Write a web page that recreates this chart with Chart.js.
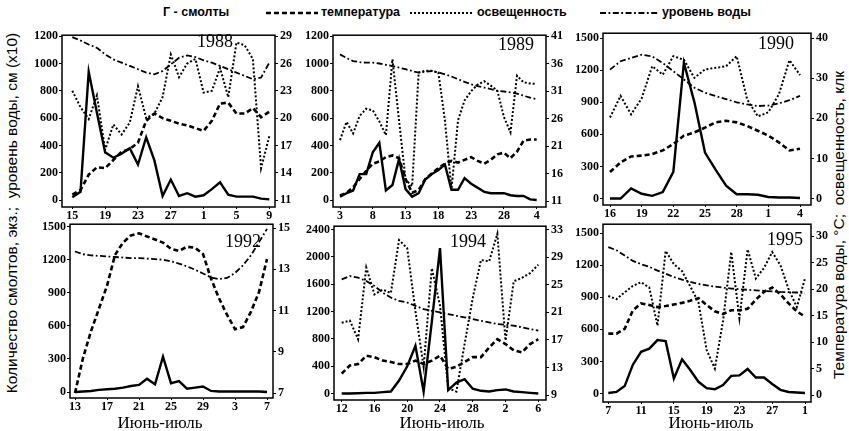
<!DOCTYPE html>
<html>
<head>
<meta charset="utf-8">
<script src="https://cdn.jsdelivr.net/npm/chart.js@4.4.1/dist/chart.umd.min.js"></script>
<style>
  body { margin: 0; width: 849px; height: 431px; background: #fff; position: relative; overflow: hidden; color: #000; }
  canvas { position: absolute; }
  .txt { position: absolute; white-space: pre; line-height: 1; }
  .year { font: 18px "Liberation Serif", serif; }
  .month { font: 17px "Liberation Serif", serif; width: 120px; text-align: center; }
  .leg { font: bold 12.5px "Liberation Sans", sans-serif; top: 5px; }
  .vtitle { font: 15.5px "Liberation Sans", sans-serif; width: 430px; height: 18px; text-align: center; transform: rotate(-90deg); }
  svg { position: absolute; }
</style>
</head>
<body>

<div class="txt leg" style="left:163px">Г - смолты</div>
<svg style="left:266px;top:8px" width="52" height="10"><line x1="0" y1="5" x2="52" y2="5" stroke="#000" stroke-width="2.6" stroke-dasharray="5 3"/></svg>
<div class="txt leg" style="left:321px">температура</div>
<svg style="left:410px;top:8px" width="62" height="10"><line x1="0" y1="5" x2="62" y2="5" stroke="#000" stroke-width="2" stroke-dasharray="2 2"/></svg>
<div class="txt leg" style="left:477px">освещенность</div>
<svg style="left:600px;top:8px" width="58" height="10"><line x1="0" y1="5" x2="58" y2="5" stroke="#000" stroke-width="1.8" stroke-dasharray="6 2.5 1.8 2.5"/></svg>
<div class="txt leg" style="left:662px">уровень воды</div>

<div class="txt vtitle" style="left:-203px;top:204px">Количество смолтов, экз.;  уровень воды, см (x10)</div>
<div class="txt vtitle" style="left:624px;top:216px">Температура воды, °С;  освещенность, клк</div>

<script>
// day numbers count from 1 June; 31 = 1 July
const START_1988 = 15;
const SMOLTS_1988 = [20, 60, 940, 640, 350, 310, 340, 380, 260, 460, 290, 30, 150, 30, 50, 25, 35, 80, 130, 40, 25, 25, 25, 10, 5];
const TEMP_1988 = [11.6, 12.1, 13.8, 14.6, 14.5, 15.4, 16.3, 16.6, 17.3, 19.7, 20.5, 20.0, 19.7, 19.4, 19.2, 18.9, 18.6, 19.7, 21.6, 21.7, 20.5, 20.5, 21.1, 20.1, 20.7];
const LIGHT_1988 = [23.0, 21.2, 19.9, 22.5, 16.5, 19.3, 18.2, 19.5, 23.5, 20.0, 20.5, 22.3, 27.0, 24.5, 26.0, 26.5, 22.8, 23.0, 25.5, 22.3, 28.3, 28.0, 26.5, 14.5, 18.0];
const WATER_1988 = [1193, 1168, 1139, 1115, 1067, 1030, 1006, 982, 958, 933, 921, 945, 994, 1042, 1059, 1047, 1023, 1006, 982, 958, 933, 909, 885, 897, 1006];

const START_1989 = 3;
const SMOLTS_1989 = [25, 50, 70, 190, 190, 350, 420, 70, 110, 300, 80, 25, 50, 150, 190, 220, 260, 75, 75, 160, 120, 90, 60, 50, 50, 50, 35, 30, 30, 5, 0];
const TEMP_1989 = [12.0, 12.5, 13.5, 15.0, 16.5, 17.8, 18.2, 19.0, 19.3, 18.8, 15.0, 12.5, 13.0, 15.0, 16.0, 17.0, 17.8, 18.3, 18.0, 18.5, 19.0, 18.3, 17.8, 18.5, 19.5, 19.8, 18.8, 20.0, 22.0, 22.2, 22.2];
const LIGHT_1989 = [22.1, 25.4, 23.3, 26.5, 27.8, 27.5, 25.5, 23.0, 36.8, 25.7, 14.9, 13.7, 34.4, 34.7, 34.7, 34.4, 25.7, 13.1, 25.7, 29.3, 31.0, 32.2, 32.8, 32.0, 31.1, 26.3, 23.5, 33.8, 32.6, 32.4, 32.3];
const WATER_1989 = [1067, 1040, 1018, 1010, 1006, 1006, 1000, 990, 982, 970, 958, 945, 933, 940, 945, 935, 921, 905, 885, 865, 848, 835, 824, 812, 800, 795, 788, 780, 764, 750, 739];

const START_1990 = 16;
const SMOLTS_1990 = [0, 0, 95, 45, 25, 60, 250, 1270, 900, 430, 270, 120, 40, 40, 35, 15, 10, 10, 5];
const TEMP_1990 = [6.6, 9.0, 10.5, 10.7, 11.1, 12.0, 13.6, 15.7, 16.5, 17.7, 19.0, 19.4, 19.0, 18.1, 16.9, 15.7, 14.0, 12.0, 12.4];
const LIGHT_1990 = [20.2, 25.6, 21.0, 25.0, 33.0, 30.9, 35.5, 34.6, 30.1, 32.2, 32.6, 33.0, 35.5, 24.7, 20.5, 21.5, 26.0, 34.5, 30.8];
const WATER_1990 = [1206, 1284, 1315, 1345, 1330, 1268, 1191, 1114, 1036, 990, 960, 930, 900, 880, 865, 870, 890, 920, 960];

const START_1992 = 13;
const SMOLTS_1992 = [0, 5, 10, 20, 25, 30, 40, 55, 65, 120, 70, 320, 80, 100, 30, 40, 50, 10, 5, 5, 5, 5, 5, 5, 0];
const TEMP_1992 = [7.0, 8.7, 10.0, 11.1, 12.2, 13.7, 14.3, 14.65, 14.75, 14.6, 14.45, 14.3, 14.0, 13.9, 14.1, 14.05, 13.75, 12.55, 11.6, 10.8, 10.1, 10.2, 10.95, 11.9, 13.5];
const WATER_1992 = [1275, 1250, 1240, 1235, 1230, 1225, 1220, 1215, 1215, 1210, 1205, 1200, 1185, 1165, 1140, 1110, 1075, 1040, 1025, 1035, 1080, 1150, 1240, 1360, 1480];

const START_1994 = 12;
const SMOLTS_1994 = [0, 0, 5, 10, 10, 20, 30, 190, 400, 700, 30, 1050, 2130, 50, 160, 210, 70, 40, 30, 50, 60, 30, 20, 10, 0];
const TEMP_1994 = [12.1, 13.3, 13.5, 14.7, 14.5, 14.0, 13.8, 13.5, 13.5, 14.0, 13.5, 14.0, 14.7, 12.8, 13.1, 13.8, 14.5, 14.5, 15.9, 17.1, 16.4, 15.5, 15.2, 16.4, 17.1];
const LIGHT_1994 = [19.5, 19.8, 17.1, 27.5, 23.6, 24.3, 23.8, 31.5, 30.3, 21.2, 13.1, 27.4, 22.0, 10.0, 9.5, 16.4, 23.1, 28.6, 28.4, 32.4, 16.9, 25.5, 26.0, 26.7, 27.9];
const WATER_1994 = [1673, 1721, 1697, 1648, 1576, 1479, 1406, 1357, 1333, 1285, 1236, 1212, 1188, 1163, 1139, 1115, 1091, 1066, 1042, 1018, 1008, 994, 970, 945, 921];

const START_1995 = 7;
const SMOLTS_1995 = [5, 15, 70, 270, 390, 420, 500, 490, 140, 320, 220, 110, 50, 40, 80, 165, 170, 230, 150, 150, 90, 35, 15, 10, 5];
const TEMP_1995 = [11.6, 11.6, 12.5, 16.0, 17.3, 17.0, 16.6, 16.8, 17.1, 17.4, 17.8, 18.3, 17.0, 15.8, 15.3, 16.0, 16.0, 16.3, 18.0, 19.5, 20.3, 19.0, 17.3, 15.8, 14.8];
const LIGHT_1995 = [18.7, 18.1, 19.4, 20.6, 21.3, 20.3, 13.1, 27.2, 24.7, 23.4, 20.5, 17.5, 8.5, 5.0, 14.0, 27.0, 14.5, 27.5, 22.0, 24.0, 27.0, 24.5, 20.0, 16.6, 22.0];
const WATER_1995 = [1370, 1340, 1290, 1240, 1210, 1185, 1150, 1120, 1090, 1065, 1045, 1025, 1012, 1000, 990, 982, 976, 970, 965, 960, 955, 950, 948, 945, 940];

// tick values and labels
const XTICKS_1988 = [15, 19, 23, 27, 31, 35, 39];
const XLABELS_1988 = ["15", "19", "23", "27", "1", "5", "9"];
const XTICKS_1989 = [3, 8, 13, 18, 23, 28, 33];
const XLABELS_1989 = ["3", "8", "13", "18", "23", "28", "4"];
const XTICKS_1990 = [16, 19, 22, 25, 28, 31, 34];
const XLABELS_1990 = ["16", "19", "22", "25", "28", "1", "4"];
const XTICKS_1992 = [13, 17, 21, 25, 29, 33, 37];
const XLABELS_1992 = ["13", "17", "21", "25", "29", "3", "7"];
const XTICKS_1994 = [12, 16, 20, 24, 28, 32, 36];
const XLABELS_1994 = ["12", "16", "20", "24", "28", "2", "6"];
const XTICKS_1995 = [7, 11, 15, 19, 23, 27, 31];
const XLABELS_1995 = ["7", "11", "15", "19", "23", "27", "1"];

const LTICKS_1988 = [0, 200, 400, 600, 800, 1000, 1200];
const RTICKS_1988 = [11, 14, 17, 20, 23, 26, 29];
const LTICKS_1989 = [0, 200, 400, 600, 800, 1000, 1200];
const RTICKS_1989 = [11, 16, 21, 26, 31, 36, 41];
const LTICKS_1990 = [0, 300, 600, 900, 1200, 1500];
const RTICKS_1990 = [0, 10, 20, 30, 40];
const LTICKS_1992 = [0, 300, 600, 900, 1200, 1500];
const RTICKS_1992 = [7, 9, 11, 13, 15];
const LTICKS_1994 = [0, 400, 800, 1200, 1600, 2000, 2400];
const RTICKS_1994 = [9, 13, 17, 21, 25, 29, 33];
const LTICKS_1995 = [0, 300, 600, 900, 1200, 1500];
const RTICKS_1995 = [0, 5, 10, 15, 20, 25, 30];

const PANELS = [
  { year: "1988", start: START_1988, smolts: SMOLTS_1988, temp: TEMP_1988, light: LIGHT_1988, water: WATER_1988, xt: XTICKS_1988, xl: XLABELS_1988, lt: LTICKS_1988, rt: RTICKS_1988 },
  { year: "1989", start: START_1989, smolts: SMOLTS_1989, temp: TEMP_1989, light: LIGHT_1989, water: WATER_1989, xt: XTICKS_1989, xl: XLABELS_1989, lt: LTICKS_1989, rt: RTICKS_1989 },
  { year: "1990", start: START_1990, smolts: SMOLTS_1990, temp: TEMP_1990, light: LIGHT_1990, water: WATER_1990, xt: XTICKS_1990, xl: XLABELS_1990, lt: LTICKS_1990, rt: RTICKS_1990 },
  { year: "1992", start: START_1992, smolts: SMOLTS_1992, temp: TEMP_1992, light: null, water: WATER_1992, xt: XTICKS_1992, xl: XLABELS_1992, lt: LTICKS_1992, rt: RTICKS_1992 },
  { year: "1994", start: START_1994, smolts: SMOLTS_1994, temp: TEMP_1994, light: LIGHT_1994, water: WATER_1994, xt: XTICKS_1994, xl: XLABELS_1994, lt: LTICKS_1994, rt: RTICKS_1994 },
  { year: "1995", start: START_1995, smolts: SMOLTS_1995, temp: TEMP_1995, light: LIGHT_1995, water: WATER_1995, xt: XTICKS_1995, xl: XLABELS_1995, lt: LTICKS_1995, rt: RTICKS_1995 },
];

// frame box and where the first/last ticks sit, page pixels
const LAYOUT = [
  { L: 62, R: 275, T: 34, B: 207, x0: 72.3, x1: 269.3, lTop: 35, lBot: 200, rTop: 35, rBot: 200, yearX: 197, yearY: 31 },
  { L: 333, R: 546, T: 34, B: 207, x0: 340, x1: 536.7, lTop: 35, lBot: 200, rTop: 35, rBot: 201, yearX: 498, yearY: 34 },
  { L: 603, R: 811, T: 32, B: 205, x0: 610, x1: 800, lTop: 37, lBot: 198.5, rTop: 37, rBot: 198.5, yearX: 758, yearY: 33 },
  { L: 70, R: 273, T: 223, B: 398, x0: 75, x1: 267, lTop: 225.5, lBot: 392, rTop: 227, rBot: 393, yearX: 225, yearY: 231, monthX: 160 },
  { L: 334, R: 546, T: 225, B: 400, x0: 341.7, x1: 538.3, lTop: 228.5, lBot: 393.5, rTop: 228.5, rBot: 395, yearX: 450, yearY: 231, monthX: 442 },
  { L: 603, R: 811, T: 223, B: 402, x0: 608.3, x1: 805, lTop: 232, lBot: 393.5, rTop: 235, rBot: 395, yearX: 767, yearY: 229, monthX: 711 },
];

const PADL = 44, PADR = 40, PADT = 8, PADB = 18;

const STYLE = {
  smolts: { borderWidth: 2.4, borderDash: [] },
  temp: { borderWidth: 2.6, borderDash: [5, 3] },
  light: { borderWidth: 2, borderDash: [2, 2] },
  water: { borderWidth: 1.8, borderDash: [6, 2.5, 1.8, 2.5] },
};

Chart.defaults.font.family = '"Liberation Serif", serif';
Chart.defaults.font.size = 12;
Chart.defaults.font.weight = "bold";
Chart.defaults.color = "#000";

// value range that puts v0 at pixel p0 and v1 at p1, read at edges e0, e1
function span(v0, v1, p0, p1, e0, e1) {
  const k = (v1 - v0) / (p1 - p0);
  return [v0 + (e0 - p0) * k, v0 + (e1 - p0) * k];
}

const framePlugin = {
  id: "frame",
  beforeDatasetsDraw(chart) {
    const { ctx, chartArea: a } = chart;
    ctx.save();
    ctx.strokeStyle = "#000";
    ctx.lineWidth = 1.5;
    ctx.strokeRect(a.left, a.top, a.right - a.left, a.bottom - a.top);
    ctx.restore();
  },
};

function series(p, key, axis) {
  return {
    data: p[key].map((v, i) => ({ x: p.start + i, y: v })),
    yAxisID: axis,
    borderColor: "#000",
    pointRadius: 0,
    tension: 0,
    fill: false,
    ...STYLE[key],
  };
}

function tickAxis(values, extra) {
  return {
    afterBuildTicks: (s) => { s.ticks = values.map((v) => ({ value: v })); },
    border: { display: false },
    grid: { display: true, drawOnChartArea: false, drawTicks: true, tickLength: 3, color: "#000" },
    ...extra,
  };
}

PANELS.forEach((p, n) => {
  const box = LAYOUT[n];
  const [xMin, xMax] = span(p.xt[0], p.xt[p.xt.length - 1], box.x0, box.x1, box.L, box.R);
  const lo = p.lt[0], hi = p.lt[p.lt.length - 1];
  const [yMin, yMax] = span(lo, hi, box.lBot, box.lTop, box.B, box.T);
  const rlo = p.rt[0], rhi = p.rt[p.rt.length - 1];
  const [rMin, rMax] = span(rlo, rhi, box.rBot, box.rTop, box.B, box.T);

  const canvas = document.createElement("canvas");
  const w = box.R - box.L + PADL + PADR;
  const h = box.B - box.T + PADT + PADB;
  canvas.width = w;
  canvas.height = h;
  canvas.style.left = (box.L - PADL) + "px";
  canvas.style.top = (box.T - PADT) + "px";
  canvas.style.width = w + "px";
  canvas.style.height = h + "px";
  document.body.appendChild(canvas);

  const datasets = [series(p, "smolts", "y"), series(p, "temp", "y1")];
  if (p.light) datasets.push(series(p, "light", "y1"));
  datasets.push(series(p, "water", "y"));

  new Chart(canvas, {
    type: "line",
    data: { datasets },
    plugins: [framePlugin],
    options: {
      responsive: false,
      devicePixelRatio: 1,
      animation: false,
      layout: { padding: { top: PADT, left: 0, right: 0, bottom: 0 } },
      plugins: { legend: { display: false }, tooltip: { enabled: false } },
      scales: {
        x: tickAxis(p.xt, {
          type: "linear", min: xMin, max: xMax,
          grid: { display: true, drawOnChartArea: false, drawTicks: true, tickLength: 2, color: "#000" },
          ticks: { autoSkip: false, maxRotation: 0, padding: 0, callback: (v, i) => p.xl[i] },
          afterFit: (s) => { s.height = PADB; },
        }),
        y: tickAxis(p.lt, {
          position: "left", min: yMin, max: yMax,
          ticks: { padding: 1, callback: (v) => String(v) },
          afterFit: (s) => { s.width = PADL; },
        }),
        y1: tickAxis(p.rt, {
          position: "right", min: rMin, max: rMax,
          ticks: { padding: 2, callback: (v) => String(v) },
          afterFit: (s) => { s.width = PADR; },
        }),
      },
    },
  });

  const yr = document.createElement("div");
  yr.className = "txt year";
  yr.textContent = p.year;
  yr.style.left = box.yearX + "px";
  yr.style.top = box.yearY + "px";
  document.body.appendChild(yr);

  if (box.monthX) {
    const m = document.createElement("div");
    m.className = "txt month";
    m.textContent = "Июнь-июль";
    m.style.left = (box.monthX - 60) + "px";
    m.style.top = "413px";
    document.body.appendChild(m);
  }
});
</script>
</body>
</html>
